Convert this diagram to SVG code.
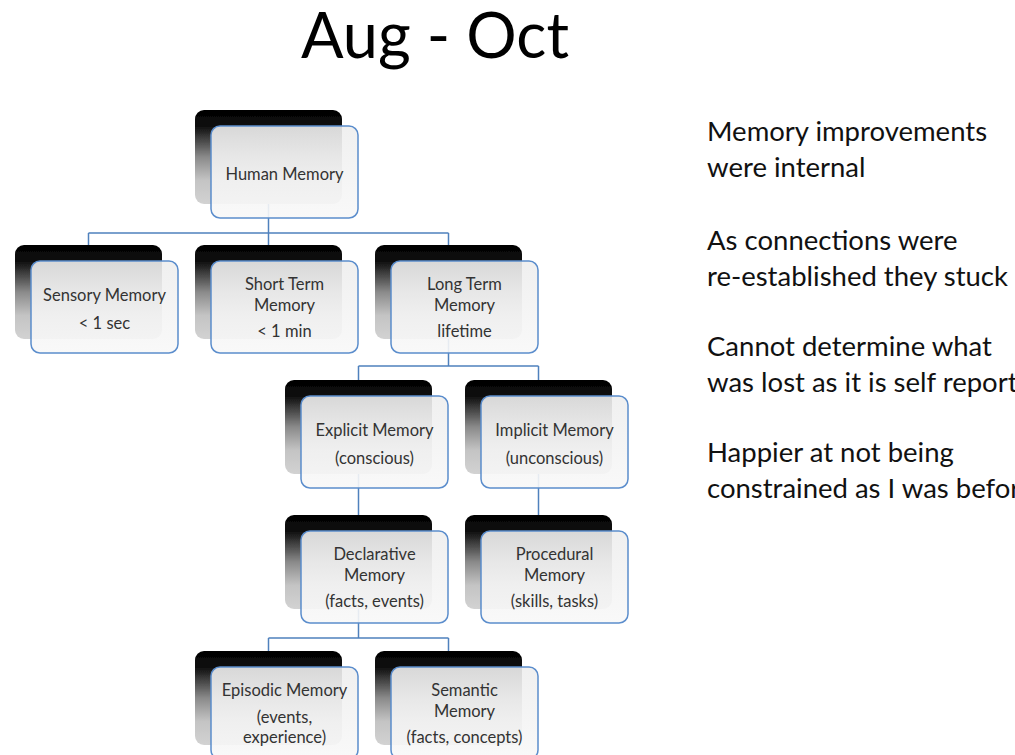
<svg xmlns="http://www.w3.org/2000/svg" width="1015" height="755" viewBox="0 0 1015 755">
  <style>
    .title { font-family: Lato, "Open Sans", "Liberation Sans", sans-serif; font-size: 63px; fill: #000; }
    .note { font-family: Lato, "Open Sans", "Liberation Sans", sans-serif; font-size: 27.5px; fill: #111; }
    .lbl { font-family: Lato, "Open Sans", "Liberation Sans", sans-serif; font-size: 16.5px; fill: #333; text-anchor: middle; }
    .back { fill: url(#backGrad); }
    .front { fill: url(#frontGrad); fill-opacity: 0.9; stroke: #5b8dcc; stroke-width: 1.5; }
    .conn { fill: none; stroke: #4f81bd; stroke-width: 1.5; }
  </style>
  <defs>
    <linearGradient id="backGrad" x1="0" y1="0" x2="0" y2="1">
      <stop offset="0" stop-color="#000"/>
      <stop offset="0.18" stop-color="#111"/>
      <stop offset="0.5" stop-color="#8a8a8a"/>
      <stop offset="0.75" stop-color="#c4c4c4"/>
      <stop offset="1" stop-color="#d2d2d2"/>
    </linearGradient>
    <linearGradient id="frontGrad" x1="0" y1="0" x2="0" y2="1">
      <stop offset="0" stop-color="#eeeeee"/>
      <stop offset="1" stop-color="#f8f8f8"/>
    </linearGradient>
    <filter id="soft" x="-10%" y="-10%" width="120%" height="120%">
      <feGaussianBlur stdDeviation="0.7"/>
    </filter>
    <!-- one card: dark backing plate plus light front panel -->
    <symbol id="card" overflow="visible">
      <rect class="back" x="0" y="0" width="147" height="94" rx="9" filter="url(#soft)"/>
      <rect class="front" x="16" y="16" width="147" height="92" rx="9"/>
    </symbol>
  </defs>

  <rect width="1015" height="755" fill="#fff"/>

  <text class="title" x="435" y="58" text-anchor="middle">Aug - Oct</text>

  <!-- hierarchy connectors -->
  <g id="connectors">
    <path class="conn" d="M268.5 204 V233 M88.5 233 H448.5 M88.5 233 V245 M268.5 233 V245 M448.5 233 V245"/>
    <path class="conn" d="M448.5 339 V366 M358.5 366 H538.5 M358.5 366 V380 M538.5 366 V380"/>
    <path class="conn" d="M358.5 474 V515 M538.5 474 V515"/>
    <path class="conn" d="M358.5 609 V638 M268.5 638 H448.5 M268.5 638 V651 M448.5 638 V651"/>
  </g>

  <g id="human-memory">
    <use href="#card" x="195" y="110"/>
    <text class="lbl" x="284.5" y="180">Human Memory</text>
  </g>

  <g id="sensory-memory">
    <use href="#card" x="15" y="245"/>
    <text class="lbl" x="104.5" y="301">Sensory Memory</text>
    <text class="lbl" x="104.5" y="329">&lt; 1 sec</text>
  </g>

  <g id="short-term-memory">
    <use href="#card" x="195" y="245"/>
    <text class="lbl" x="284.5" y="290">Short Term</text>
    <text class="lbl" x="284.5" y="311">Memory</text>
    <text class="lbl" x="284.5" y="337">&lt; 1 min</text>
  </g>

  <g id="long-term-memory">
    <use href="#card" x="375" y="245"/>
    <text class="lbl" x="464.5" y="290">Long Term</text>
    <text class="lbl" x="464.5" y="311">Memory</text>
    <text class="lbl" x="464.5" y="337">lifetime</text>
  </g>

  <g id="explicit-memory">
    <use href="#card" x="285" y="380"/>
    <text class="lbl" x="374.5" y="436">Explicit Memory</text>
    <text class="lbl" x="374.5" y="464">(conscious)</text>
  </g>

  <g id="implicit-memory">
    <use href="#card" x="465" y="380"/>
    <text class="lbl" x="554.5" y="436">Implicit Memory</text>
    <text class="lbl" x="554.5" y="464">(unconscious)</text>
  </g>

  <g id="declarative-memory">
    <use href="#card" x="285" y="515"/>
    <text class="lbl" x="374.5" y="560">Declarative</text>
    <text class="lbl" x="374.5" y="581">Memory</text>
    <text class="lbl" x="374.5" y="607">(facts, events)</text>
  </g>

  <g id="procedural-memory">
    <use href="#card" x="465" y="515"/>
    <text class="lbl" x="554.5" y="560">Procedural</text>
    <text class="lbl" x="554.5" y="581">Memory</text>
    <text class="lbl" x="554.5" y="607">(skills, tasks)</text>
  </g>

  <g id="episodic-memory">
    <use href="#card" x="195" y="651"/>
    <text class="lbl" x="284.5" y="696">Episodic Memory</text>
    <text class="lbl" x="284.5" y="723">(events,</text>
    <text class="lbl" x="284.5" y="743">experience)</text>
  </g>

  <g id="semantic-memory">
    <use href="#card" x="375" y="651"/>
    <text class="lbl" x="464.5" y="696">Semantic</text>
    <text class="lbl" x="464.5" y="717">Memory</text>
    <text class="lbl" x="464.5" y="743">(facts, concepts)</text>
  </g>

  <!-- side notes -->
  <g id="notes">
    <text class="note" x="707" y="141">Memory improvements</text>
    <text class="note" x="707" y="177">were internal</text>
    <text class="note" x="707" y="250">As connections were</text>
    <text class="note" x="707" y="286">re-established they stuck</text>
    <text class="note" x="707" y="356">Cannot determine what</text>
    <text class="note" x="707" y="392">was lost as it is self reported</text>
    <text class="note" x="707" y="462">Happier at not being</text>
    <text class="note" x="707" y="498">constrained as I was before</text>
  </g>
</svg>
